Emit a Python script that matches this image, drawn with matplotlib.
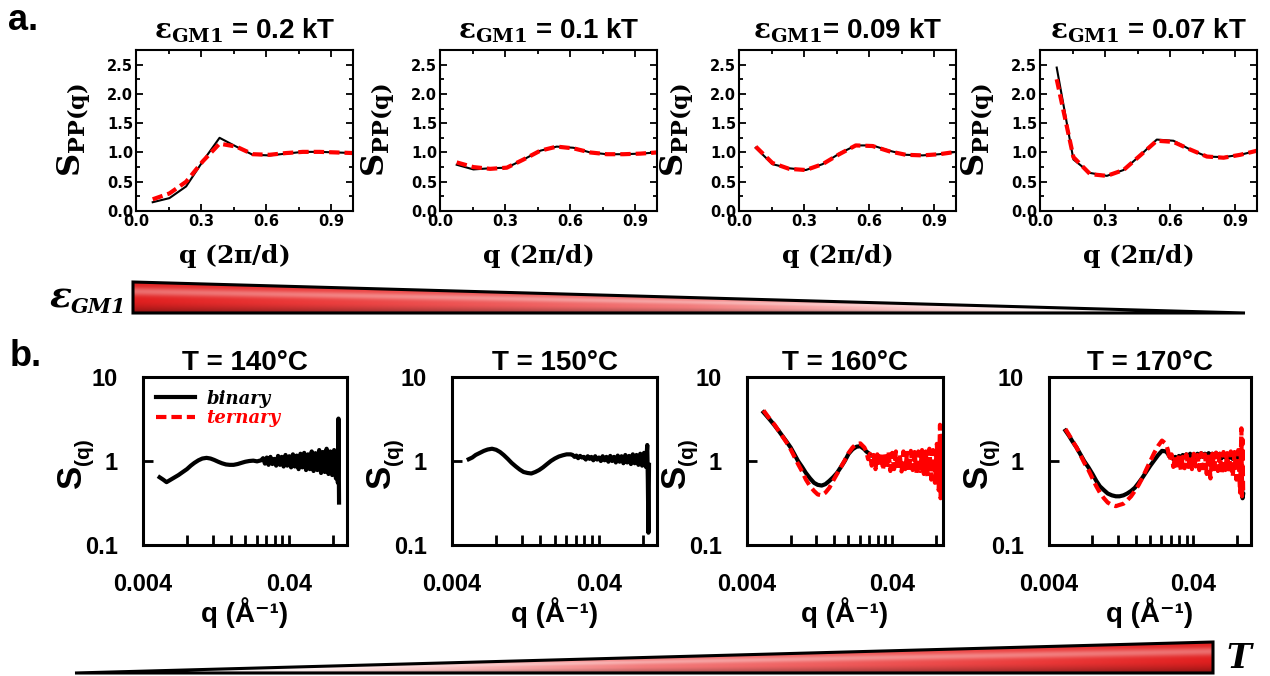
import numpy as np
import matplotlib.pyplot as plt
from matplotlib.lines import Line2D
from matplotlib.patches import Polygon
from matplotlib.ticker import MultipleLocator, FixedLocator, FixedFormatter, NullFormatter

plt.rcParams['font.family'] = ['Liberation Sans', 'DejaVu Sans']
plt.rcParams['font.weight'] = 'bold'
plt.rcParams['axes.titleweight'] = 'bold'
plt.rcParams['axes.labelweight'] = 'bold'
plt.rcParams['mathtext.fontset'] = 'dejavuserif'

# ---- panel a: simulated S_PP(q) ----
eps_values = ['0.2', '0.1', '0.09', '0.07']
q_sim = [0.077, 0.154, 0.231, 0.308, 0.385, 0.462, 0.538, 0.615, 0.692, 0.769, 0.846, 0.923, 1.0]
spp_binary = [
    [0.15, 0.22, 0.42, 0.85, 1.25, 1.10, 0.96, 0.95, 0.98, 1.01, 1.01, 1.00, 0.99],
    [0.79, 0.71, 0.73, 0.74, 0.88, 1.03, 1.10, 1.08, 1.00, 0.97, 0.97, 0.98, 1.00],
    [1.08, 0.80, 0.73, 0.70, 0.80, 0.98, 1.12, 1.12, 1.03, 0.96, 0.95, 0.97, 1.01],
    [2.45, 0.88, 0.65, 0.60, 0.70, 0.95, 1.22, 1.20, 1.05, 0.93, 0.92, 0.96, 1.03],
]
spp_ternary = [
    [0.20, 0.30, 0.50, 0.85, 1.15, 1.10, 0.97, 0.96, 0.99, 1.01, 1.01, 1.00, 0.99],
    [0.83, 0.75, 0.72, 0.74, 0.88, 1.03, 1.10, 1.07, 1.00, 0.97, 0.97, 0.98, 1.00],
    [1.10, 0.82, 0.72, 0.70, 0.80, 0.97, 1.12, 1.11, 1.02, 0.96, 0.95, 0.97, 1.01],
    [2.25, 0.92, 0.63, 0.60, 0.70, 0.95, 1.20, 1.18, 1.05, 0.93, 0.91, 0.96, 1.03],
]

# ---- panel b: measured S(q) ----
temps = ['140', '150', '160', '170']
q_exp = [0.0052, 0.0055, 0.0058, 0.0062, 0.0066, 0.0070, 0.0075, 0.0080, 0.0085, 0.0090,
         0.0096, 0.0102, 0.0109, 0.0116, 0.0123, 0.0131, 0.0139, 0.0148, 0.0157, 0.0167,
         0.0178, 0.0189, 0.0201, 0.0214, 0.0228, 0.0242, 0.0258,
         0.0266, 0.0274, 0.0282, 0.0290, 0.0299, 0.0308, 0.0317, 0.0327, 0.0337, 0.0347,
         0.0357, 0.0368, 0.0379, 0.0390, 0.0402, 0.0414, 0.0426, 0.0439, 0.0452, 0.0466,
         0.0480, 0.0494, 0.0509, 0.0524, 0.0540, 0.0556, 0.0573, 0.0590, 0.0608, 0.0626,
         0.0645, 0.0664, 0.0684, 0.0704, 0.0725, 0.0747, 0.0769, 0.0792, 0.0816, 0.0840,
         0.0858, 0.0866, 0.0874, 0.0882]
s_binary = [
    [0.64, 0.60, 0.56, 0.60, 0.64, 0.68, 0.74, 0.80, 0.88, 0.95, 1.02, 1.07, 1.09, 1.07, 1.03,
     0.98, 0.94, 0.91, 0.90, 0.90, 0.92, 0.95, 0.98, 1.00, 1.01, 0.99, 1.02,
     1.08, 0.93, 1.10, 0.90, 1.12, 0.92, 1.06, 0.88, 1.15, 0.90,
     1.12, 0.86, 1.18, 0.88, 1.14, 0.84, 1.20, 0.86, 1.16, 0.80,
     1.22, 0.84, 1.25, 0.78, 1.20, 0.80, 1.30, 0.76, 1.24, 0.78,
     1.35, 0.72, 1.28, 0.74, 1.40, 0.70, 1.30, 0.68, 1.35, 0.62,
     1.20, 0.55, 3.20, 0.32],
    [1.05, 1.10, 1.18, 1.25, 1.32, 1.37, 1.40, 1.36, 1.28, 1.18, 1.06, 0.95, 0.86, 0.79, 0.74,
     0.72, 0.71, 0.74, 0.78, 0.84, 0.92, 1.00, 1.07, 1.13, 1.17, 1.20, 1.20,
     1.18, 1.12, 1.16, 1.08, 1.15, 1.10, 1.12, 1.04, 1.14, 1.06,
     1.12, 1.02, 1.14, 1.04, 1.10, 1.00, 1.14, 1.02, 1.12, 0.98,
     1.15, 1.00, 1.12, 0.96, 1.16, 0.98, 1.14, 0.94, 1.18, 0.96,
     1.15, 0.92, 1.20, 0.94, 1.18, 0.90, 1.22, 0.88, 1.25, 0.85,
     1.55, 0.60, 0.14, 0.90],
    [3.80, 3.40, 3.05, 2.65, 2.30, 2.00, 1.70, 1.45, 1.20, 1.00, 0.85, 0.72, 0.62, 0.55, 0.52,
     0.51, 0.53, 0.58, 0.64, 0.72, 0.85, 1.00, 1.22, 1.38, 1.48, 1.50, 1.38,
     1.30, 1.25, 1.20, 1.16, 1.15, 1.10, 1.12, 1.06, 1.08, 1.02,
     1.06, 1.00] + [np.nan] * 32,
    [2.30, 2.00, 1.72, 1.45, 1.20, 1.00, 0.84, 0.70, 0.58, 0.50, 0.45, 0.41, 0.39, 0.38, 0.38,
     0.39, 0.41, 0.44, 0.48, 0.55, 0.64, 0.75, 0.88, 1.02, 1.18, 1.32, 1.30,
     1.22, 1.12, 1.16, 1.05, 1.12, 1.04, 1.15, 1.08, 1.18, 1.10,
     1.20, 1.12, 1.22, 1.10, 1.20, 1.12, 1.22, 1.10, 1.24, 1.12,
     1.22, 1.10, 1.24, 1.12, 1.22, 1.10, 1.24, 1.12, 1.22, 1.08,
     1.24, 1.10, 1.22, 1.08, 1.25, 1.06, 1.22, 1.05, 1.20, 1.00,
     0.90, 0.60, 0.36, 0.40],
]
s_ternary = [
    None,
    None,
    [4.00, 3.50, 3.10, 2.70, 2.30, 1.98, 1.66, 1.38, 1.12, 0.92, 0.75, 0.60, 0.50, 0.44, 0.40,
     0.39, 0.42, 0.48, 0.58, 0.70, 0.85, 1.02, 1.25, 1.45, 1.60, 1.62, 1.45,
     1.30, 1.05, 1.22, 0.88, 1.18, 0.80, 1.20, 0.85, 1.25, 0.78,
     1.22, 0.82, 1.28, 0.76, 1.25, 0.80, 1.30, 0.78, 1.22, 0.75,
     1.30, 0.80, 1.25, 0.74, 1.32, 0.78, 1.28, 0.72, 1.30, 0.76,
     1.35, 0.70, 1.30, 0.66, 1.40, 0.60, 1.35, 0.55, 1.60, 0.45,
     2.70, 0.36, 2.00, 0.50],
    [2.40, 2.05, 1.75, 1.45, 1.18, 0.96, 0.78, 0.62, 0.50, 0.42, 0.36, 0.32, 0.30, 0.29, 0.30,
     0.31, 0.34, 0.38, 0.44, 0.52, 0.64, 0.80, 1.00, 1.25, 1.52, 1.75, 1.60,
     1.35, 1.00, 1.20, 0.85, 1.15, 0.80, 1.18, 0.78, 1.12, 0.82,
     1.20, 0.85, 1.15, 0.80, 1.22, 0.86, 1.18, 0.78, 1.24, 0.82,
     1.20, 0.70, 1.25, 0.62, 1.22, 0.80, 1.26, 0.76, 1.22, 0.70,
     1.28, 0.78, 1.24, 0.72, 1.30, 0.65, 1.28, 0.60, 1.35, 0.42,
     2.45, 0.38, 1.80, 0.45],
]
q_major = [0.004, 0.04]
q_minor = [0.008, 0.012, 0.016, 0.020, 0.024, 0.028, 0.032, 0.036, 0.08]
q_max = [0.1, 0.1, 0.09, 0.1]

W, H = 1270, 676
fig = plt.figure(figsize=(12.7, 6.76), dpi=100)


def box(x0, y0, x1, y1):
    return [x0 / W, 1 - y1 / H, (x1 - x0) / W, (y1 - y0) / H]


# background axes for the wedges and panel letters
bg = fig.add_axes([0, 0, 1, 1])
bg.set_xlim(0, W)
bg.set_ylim(H, 0)
bg.axis('off')


def wedge_image():
    # glossy red -> white -> grey fill, shaded relative to the local wedge height
    tx = np.linspace(0, 1, 600)
    ty = np.linspace(0, 1, 60)
    stops = [0.0, 0.15, 0.5, 0.8, 0.92, 1.0]
    cols = [(0.88, 0.12, 0.12), (0.92, 0.22, 0.22), (0.95, 0.48, 0.48),
            (1.0, 0.94, 0.94), (0.88, 0.88, 0.88), (0.55, 0.55, 0.55)]
    base = np.stack([np.interp(tx, stops, [c[k] for c in cols]) for k in range(3)], axis=-1)
    TX, TY = np.meshgrid(tx, ty)
    v = np.clip((TY - TX) / np.maximum(1 - TX, 1e-3), 0, 1)[:, :, None]
    dark = 0.38 * np.clip((v - 0.6) / 0.4, 0, 1) ** 1.5
    glow = 0.35 * np.exp(-((v - 0.3) / 0.14) ** 2)
    img = base[None, :, :] * (1 - dark)
    return np.clip(img + (1 - img) * glow, 0, 1)


img_top = wedge_image()
tri = Polygon([(133, 282), (133, 313), (1245, 313)], closed=True, fc='none', ec='black', lw=2.2)
bg.add_patch(tri)
im = bg.imshow(img_top, extent=(133, 1245, 313, 282), aspect='auto')
im.set_clip_path(tri)

img_bot = img_top[:, ::-1, :]
tri2 = Polygon([(75, 673), (1213, 642), (1213, 673)], closed=True, fc='none', ec='black', lw=2.2)
bg.add_patch(tri2)
im2 = bg.imshow(img_bot, extent=(75, 1213, 673, 642), aspect='auto')
im2.set_clip_path(tri2)

fig.text(8 / W, 1 - 20 / H, 'a.', fontsize=26, va='center')
fig.text(10 / W, 1 - 356 / H, 'b.', fontsize=26, va='center')
fig.text(50 / W, 1 - 297 / H, 'ε', fontsize=26, style='italic', family='DejaVu Serif', va='center')
fig.text(71 / W, 1 - 307 / H, 'GM1', fontsize=15, style='italic', family='DejaVu Serif', va='center')
fig.text(1226 / W, 1 - 658 / H, 'T', fontsize=24, style='italic', family='DejaVu Serif', va='center')

# ---- top row ----
top_left = [136, 440, 739, 1040]
for i in range(4):
    ax = fig.add_axes(box(top_left[i], 50, top_left[i] + 217, 211))
    ax.plot(q_sim, spp_binary[i], color='black', lw=1.5)
    ax.plot(q_sim, spp_ternary[i], color='red', lw=3, dashes=(2.5, 1.2))
    ax.set_xlim(0, 1)
    ax.set_ylim(0, 2.75)
    ax.xaxis.set_major_locator(MultipleLocator(0.3))
    ax.xaxis.set_minor_locator(MultipleLocator(0.15))
    ax.yaxis.set_major_locator(MultipleLocator(0.5))
    ax.yaxis.set_minor_locator(MultipleLocator(0.25))
    ax.tick_params(which='both', direction='in', top=True, right=True, labelsize=10.5,
                   pad=2, labelfontfamily='DejaVu Sans', width=1.3)
    ax.tick_params(which='major', length=5)
    ax.tick_params(which='minor', length=3)
    for s in ax.spines.values():
        s.set_linewidth(1.5)
    sep = '' if i == 2 else ' '
    ax.set_title(r'$\mathbf{\varepsilon_{GM1}}$' + sep + '= ' + eps_values[i] + ' kT',
                 fontsize=20, pad=8)
    ax.set_xlabel(r'$\mathbf{q\ (2\pi/d)}$', fontsize=18)
    ax.xaxis.set_label_coords(0.45, -0.19)
    ax.set_ylabel(r'$\mathbf{S_{PP(q)}}$', fontsize=23)
    ax.yaxis.set_label_coords(-0.2, 0.5)

# ---- bottom row ----
bot_left = [143, 452, 747, 1049]
bot_width = [204, 205, 196, 202]
for i in range(4):
    x0 = bot_left[i]
    ax = fig.add_axes(box(x0, 377, x0 + bot_width[i], 545))
    ax.plot(q_exp, s_binary[i], color='black', lw=3)
    if s_ternary[i] is not None:
        ax.plot(q_exp, s_ternary[i], color='red', lw=3, dashes=(2.5, 1.2))
    ax.set_xscale('log')
    ax.set_yscale('log')
    ax.set_xlim(0.004, q_max[i])
    ax.set_ylim(0.1, 10)
    ax.xaxis.set_major_locator(FixedLocator(q_major))
    ax.xaxis.set_major_formatter(FixedFormatter(['0.004', '0.04']))
    ax.xaxis.set_minor_locator(FixedLocator(q_minor))
    ax.xaxis.set_minor_formatter(NullFormatter())
    ax.yaxis.set_major_locator(FixedLocator([0.1, 1, 10]))
    ax.yaxis.set_major_formatter(FixedFormatter(['0.1', '1', '10']))
    ax.yaxis.set_minor_locator(FixedLocator([]))
    ax.tick_params(which='both', direction='in', width=2, length=7)
    ax.tick_params(axis='x', labelsize=17, pad=20)
    ax.tick_params(axis='y', labelsize=17, pad=18)
    for s in ax.spines.values():
        s.set_linewidth(2.2)
    ax.set_title('T = ' + temps[i] + '°C', fontsize=20, pad=5)
    ax.set_xlabel('q (Å⁻¹)', fontsize=20)
    ax.xaxis.set_label_coords(0.5, -0.31)
    fig.text((x0 - 72) / W, 1 - 476 / H, 'S', fontsize=25, rotation=90, ha='center', va='center')
    fig.text((x0 - 59) / W, 1 - 452 / H, '(q)', fontsize=15, rotation=90, ha='center', va='center')
    if i == 0:
        handles = [Line2D([], [], color='black', lw=3),
                   Line2D([], [], color='red', lw=3, dashes=(2.5, 1.2))]
        leg = ax.legend(handles, ['binary', 'ternary'], loc='upper left', frameon=False,
                        prop={'family': 'DejaVu Serif', 'style': 'italic', 'weight': 'bold', 'size': 13},
                        handlelength=2.2, handletextpad=0.6, labelspacing=0.1, borderaxespad=0.3)
        leg.get_texts()[1].set_color('red')

fig.savefig('out.png', dpi=100)
